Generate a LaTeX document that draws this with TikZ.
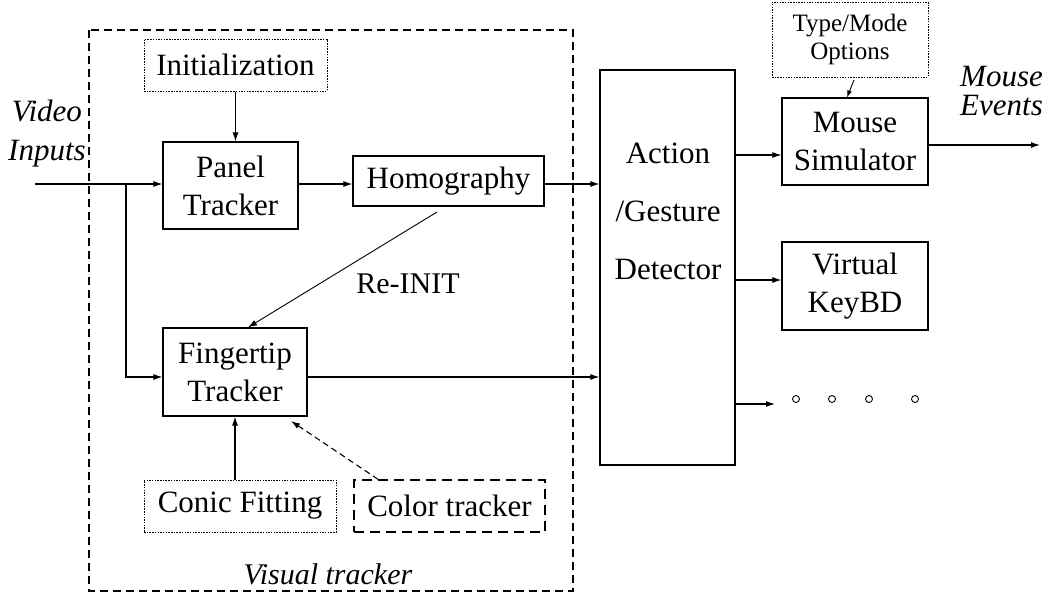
\documentclass[tikz,border=0pt]{standalone}
\usepackage{fontspec}
\setmainfont{Liberation Serif}
\usetikzlibrary{arrows.meta}
\begin{document}
\begin{tikzpicture}[x=1pt,y=-1pt,
  blk/.style={draw,line width=1.2pt,inner sep=0pt,align=center,font=\fontsize{31}{38}\selectfont},
  dotbox/.style={blk,line width=1pt,dash pattern=on 1.5pt off 1.2pt},
  dashbox/.style={blk,line width=1.5pt,dash pattern=on 10pt off 6pt},
  arr/.style={line width=1.1pt,-{Latex[length=9pt,width=6pt]}},
  lbl/.style={inner sep=0pt,align=center,font=\fontsize{31}{38}\selectfont}]
\useasboundingbox (0,0) rectangle (1051,598);
% visual tracker frame
\draw[line width=2pt,dash pattern=on 8pt off 5pt] (89,30) rectangle (573,591);
\node[lbl,font=\fontsize{30}{34}\selectfont\itshape] (vt) at (328,574) {Visual tracker};
% nodes
\node[dotbox,minimum width=183pt,minimum height=52pt] (init) at (235.5,65) {Initialization};
\node[blk,minimum width=135pt,minimum height=87pt] (panel) at (230.5,185.5) {Panel\\Tracker};
\node[blk,minimum width=191pt,minimum height=50pt] (homo) at (448.5,181) {Homography};
\node[blk,minimum width=144pt,minimum height=88pt] (finger) at (235,372) {Fingertip\\Tracker};
\node[dotbox,minimum width=192pt,minimum height=52pt] (conic) at (240,506) {Conic Fitting};
\node[dashbox,minimum width=191pt,minimum height=52pt] (color) at (449.5,506) {Color tracker};
\node[blk,minimum width=135pt,minimum height=395pt] (action) at (667.5,267.5) {};
\node[lbl] (a1) at (668,153) {Action};
\node[lbl] (a2) at (668,211) {/Gesture};
\node[lbl] (a3) at (668,269) {Detector};
\node[dotbox,minimum width=156pt,minimum height=75pt,font=\fontsize{25}{28}\selectfont] (type) at (850,39.5) {Type/Mode\\Options};
\node[blk,minimum width=146pt,minimum height=87pt] (mouse) at (855,141.5) {Mouse\\Simulator};
\node[blk,minimum width=146pt,minimum height=88pt] (vkb) at (855,286) {Virtual\\KeyBD};
\node[lbl,font=\fontsize{31}{39}\selectfont\itshape,anchor=west] (vin) at (8,134) {Video\\Inputs};
\node[lbl,font=\fontsize{31}{29}\selectfont\itshape,anchor=west] (mev) at (960,91) {Mouse\\Events};
\node[lbl,font=\fontsize{30}{36}\selectfont] (reinit) at (408,284) {Re-INIT};
% coordinates
\coordinate (vstart) at (35,184);
\coordinate (split) at (126,184);
\coordinate (out) at (1040,145);
\coordinate (dotsarr) at (775,404);
% connectors
\draw[arr] (vstart) -- (panel.west |- vstart);
\draw[arr] (split) |- (finger.west |- 0,377);
\draw[arr] (init.south) -- (panel.north -| init.south);
\draw[arr] (panel.east |- 0,184) -- (homo.west |- 0,184);
\draw[arr] (homo.east |- 0,184) -- (action.west |- 0,184);
\draw[line width=0.9pt,-{Latex[length=9pt,width=6pt]}] (437,212) -- (finger.north -| 248,0);
\draw[arr] (finger.east |- 0,377) -- (action.west |- 0,377);
\draw[arr] (conic.north -| 235,0) -- (finger.south -| 235,0);
\draw[line width=1.1pt,dash pattern=on 6pt off 4pt,-{Latex[length=9pt,width=6pt]}] (color.north -| 378,0) -- (291,421);
\draw[arr] (action.east |- 0,155) -- (mouse.west |- 0,155);
\draw[arr] (action.east |- 0,280) -- (vkb.west |- 0,280);
\draw[arr] (action.east |- dotsarr) -- (dotsarr);
\draw[line width=0.9pt,-{Latex[length=7pt,width=5pt]}] (854,80) -- (mouse.north -| 847,0);
\draw[arr] (mouse.east |- out) -- (out);
\foreach \i/\x in {1/796,2/832,3/869,4/915} \node[draw,circle,line width=0.9pt,minimum size=7pt,inner sep=0pt] (d\i) at (\x,399) {};
\end{tikzpicture}
\end{document}
